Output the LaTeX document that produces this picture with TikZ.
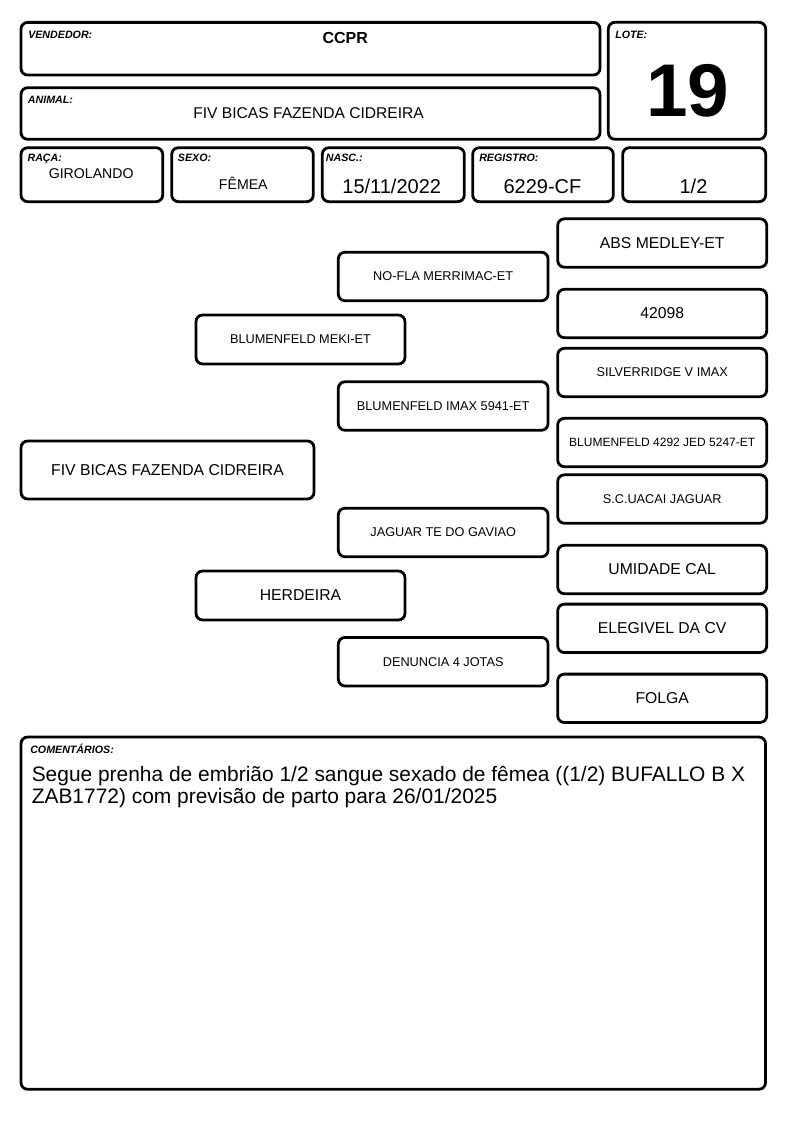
\documentclass[tikz,border=0pt]{standalone}
\usepackage{fontspec}
\setmainfont{Liberation Sans}

\begin{document}
\begin{tikzpicture}[x=0.75pt, y=-0.75pt,
    box/.style={draw, line width=2.1pt, rounded corners=5pt, inner sep=0pt},
    tag/.style={anchor=base west, inner sep=0pt, font=\fontsize{8}{9}\selectfont\bfseries\itshape},
    val/.style={anchor=base, inner sep=0pt},
    big/.style={font=\fontsize{11.8}{14}\selectfont},
    small/.style={font=\fontsize{9.55}{11}\selectfont},
    gen1/.style={box, minimum width=156.75pt, minimum height=36.75pt},
    gen2/.style={box, minimum width=157.3pt, minimum height=36.4pt},
    gen3/.style={box, minimum width=156.75pt, minimum height=36.3pt}]
    \useasboundingbox (0,0) rectangle (794,1123);

    % header
    \node[box, minimum width=434.25pt, minimum height=39.5pt] (vend) at (310.5,48.7) {};
    \node[box, minimum width=434.25pt, minimum height=38.7pt] (anim) at (310.5,113.5) {};
    \node[box, minimum width=118pt, minimum height=87.75pt] (lote) at (687,80.8) {};
    \node[box, minimum width=106.3pt, minimum height=40.5pt] (raca) at (91.85,174.7) {};
    \node[box, minimum width=106.2pt, minimum height=40.5pt] (sexo) at (242.5,174.7) {};
    \node[box, minimum width=106.5pt, minimum height=40.5pt] (nasc) at (393.3,174.7) {};
    \node[box, minimum width=105.5pt, minimum height=40.5pt] (reg) at (543,174.7) {};
    \node[box, minimum width=107.25pt, minimum height=40.5pt] (frac) at (694.2,174.7) {};

    \node[tag] (vendT) at (28,39) {VENDEDOR:};
    \node[tag] (loteT) at (615,38.3) {LOTE:};
    \node[tag] (animT) at (27.7,103.3) {ANIMAL:};
    \node[tag] (racaT) at (27.3,161.7) {RAÇA:};
    \node[tag] (sexoT) at (177.7,161.7) {SEXO:};
    \node[tag] (nascT) at (325.7,161.7) {NASC.:};
    \node[tag] (regT) at (479,161.7) {REGISTRO:};

    \node[val, font=\fontsize{12}{14}\selectfont\bfseries] (vendV) at (345.3,43.3) {CCPR};
    \node[val, font=\fontsize{11.7}{14}\selectfont] (animV) at (308.6,119) {FIV BICAS FAZENDA CIDREIRA};
    \node[val, font=\fontsize{56}{60}\selectfont\bfseries] (loteV) at (688,116.7) {19};
    \node[val, font=\fontsize{10.6}{13}\selectfont] (racaV) at (91.2,178.3) {GIROLANDO};
    \node[val, font=\fontsize{10.6}{13}\selectfont] (sexoV) at (243.3,190) {FÊMEA};
    \node[val, font=\fontsize{15}{18}\selectfont] (nascV) at (391.7,193.3) {15/11/2022};
    \node[val, font=\fontsize{15}{18}\selectfont] (regV) at (542.5,193.3) {6229-CF};
    \node[val, font=\fontsize{15}{18}\selectfont] (fracV) at (693.5,193.3) {1/2};

    % pedigree
    \node[box, big, minimum width=219.75pt, minimum height=43.5pt] (p0) at (167.5,470) {FIV BICAS FAZENDA CIDREIRA};

    \node[gen1, small] (p1) at (300.5,339.5) {BLUMENFELD MEKI-ET};
    \node[gen1, big] (p2) at (300.5,595.5) {HERDEIRA};

    \node[gen2, small] (p11) at (443.2,276.5) {NO-FLA MERRIMAC-ET};
    \node[gen2, small] (p12) at (443.2,406) {BLUMENFELD IMAX 5941-ET};
    \node[gen2, small] (p21) at (443.2,532.5) {JAGUAR TE DO GAVIAO};
    \node[gen2, small] (p22) at (443.2,661.7) {DENUNCIA 4 JOTAS};

    \node[gen3, big] (p111) at (662.2,243) {ABS MEDLEY-ET};
    \node[gen3, big] (p112) at (662.2,313.5) {42098};
    \node[gen3, small] (p121) at (662.2,372.5) {SILVERRIDGE V IMAX};
    \node[gen3, font=\fontsize{9}{11}\selectfont] (p122) at (662.2,442.5) {BLUMENFELD 4292 JED 5247-ET};
    \node[gen3, small] (p211) at (662.2,499) {S.C.UACAI JAGUAR};
    \node[gen3, big] (p212) at (662.2,569.5) {UMIDADE CAL};
    \node[gen3, big] (p221) at (662.2,628.3) {ELEGIVEL DA CV};
    \node[gen3, big] (p222) at (662.2,698.3) {FOLGA};

    % comments
    \node[box, minimum width=558.4pt, minimum height=264.2pt] (com) at (393.25,913.15) {};
    \node[tag] (comT) at (30,753.3) {COMENTÁRIOS:};
    \node[anchor=north west, inner sep=0pt, align=left, font=\fontsize{15.7}{17}\selectfont] (comV) at (31.5,765.5)
        {Segue prenha de embrião 1/2 sangue sexado de fêmea ((1/2) BUFALLO B X\\ZAB1772) com previsão de parto para 26/01/2025};
\end{tikzpicture}
\end{document}
